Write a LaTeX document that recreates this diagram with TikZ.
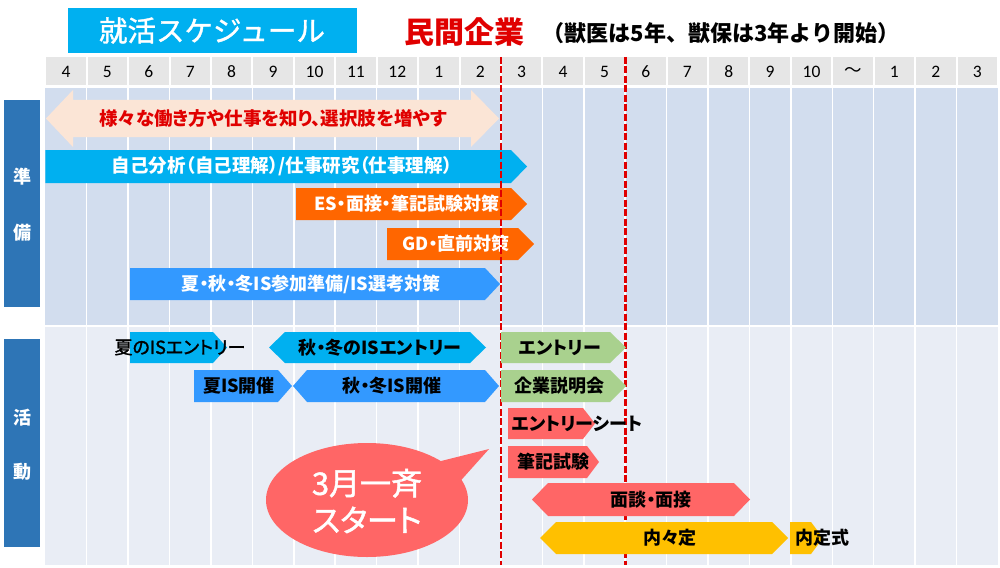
\documentclass[tikz,border=0pt]{standalone}
\usepackage{fontspec}
\setmainfont{Noto Sans CJK JP}[RawFeature=+palt]
\newfontfamily\jpfont{Noto Sans CJK JP}
\newfontfamily\medfont{Noto Sans CJK JP}[FakeBold=1.2]
\newfontfamily\medpfont{Noto Sans CJK JP}[RawFeature=+palt, FakeBold=1.5]
\newfontfamily\numfont{Carlito}
\definecolor{titlecyan}{HTML}{00B0F0}
\definecolor{sideblue}{HTML}{2E75B6}
\definecolor{headgray}{HTML}{E6E6E6}
\definecolor{upperbg}{HTML}{D2DDEE}
\definecolor{lowerbg}{HTML}{E9EDF5}
\definecolor{peach}{HTML}{FBE5D6}
\definecolor{barcyan}{HTML}{00B0F0}
\definecolor{barorange}{HTML}{FF6600}
\definecolor{barblue}{HTML}{3399FF}
\definecolor{bargreen}{HTML}{A9D18E}
\definecolor{barred}{HTML}{FF6666}
\definecolor{baryellow}{HTML}{FFC000}
\definecolor{darkred}{HTML}{E00000}
\newcommand\shpR[6]{\fill[#6] (#1,#2) -- ({#3-#5},#2) -- (#3,{(#2+#4)/2}) -- ({#3-#5},#4) -- (#1,#4) -- cycle;}
\newcommand\shpH[6]{\fill[#6] (#1,{(#2+#4)/2}) -- ({#1+#5},#2) -- ({#3-#5},#2) -- (#3,{(#2+#4)/2}) -- ({#3-#5},#4) -- ({#1+#5},#4) -- cycle;}
\begin{document}
\begin{tikzpicture}[x=1pt,y=-1pt,
  lbl/.style={inner sep=0pt, font=\fontsize{18}{18}\selectfont\bfseries},
  wlbl/.style={lbl, text=white},
  sidetxt/.style={inner sep=0pt, text=white, font=\fontsize{18}{18}\selectfont\bfseries},
  reddash/.style={darkred, line width=2.6pt, dash pattern=on 7pt off 2.5pt},
  gridline/.style={white, line width=1.5pt}]
\useasboundingbox (0,0) rectangle (1000,567);
% title
\fill[titlecyan] (68,8) rectangle (357,53);
\node[inner sep=0pt, text=white, font=\medfont\fontsize{28.5}{28.5}\selectfont] (title) at (212,30.5) {就活スケジュール};
\node[inner sep=0pt, text=darkred, font=\fontsize{30}{30}\selectfont\bfseries] (minkan) at (464,32) {民間企業};
\node[inner sep=0pt, font=\jpfont\fontsize{22}{22}\selectfont\bfseries] (sub) at (721,33) {（獣医は5年、獣保は3年より開始）};
% header
\foreach \m [count=\i from 0] in {4,5,6,7,8,9,10,11,12,1,2,3,4,5,6,7,8,9,10,{\jpfont ～},1,2,3} {
  \fill[headgray] ({45.3+41.42*\i+1},57) rectangle ({45.3+41.42*(\i+1)-1},85);
  \node[inner sep=0pt, font=\numfont\fontsize{17.5}{17.5}\selectfont] (h\i) at ({45.3+41.42*\i+20.7},71.5) {\m};
}
% body
\fill[upperbg] (45.3,88) rectangle (998,325);
\fill[lowerbg] (45.3,327) rectangle (998,565);
\foreach \i in {1,...,22} { \draw[gridline] ({45.3+41.42*\i},88) -- ({45.3+41.42*\i},565); }
% side boxes
\fill[sideblue] (4,100) rectangle (40,307);
\node[sidetxt] (jun) at (22,177) {準};
\node[sidetxt] (bi) at (22,233) {備};
\fill[sideblue] (4,339) rectangle (40,547);
\node[sidetxt] (katsu) at (22,418) {活};
\node[sidetxt] (dou) at (22,472) {動};
% preparation
\fill[peach] (46,118.5) -- (73,90) -- (73,100) -- (471,100) -- (471,90) -- (499,118.5) -- (471,147) -- (471,137) -- (73,137) -- (73,147) -- cycle;
\node[lbl, text=darkred, font=\fontsize{18.5}{18.5}\selectfont\bfseries] (p1) at (273,118.5) {様々な働き方や仕事を知り、選択肢を増やす};
\shpR{45.3}{150}{527}{183}{16}{barcyan}
\node[wlbl, font=\fontsize{18.5}{18.5}\selectfont\bfseries] (p2) at (282,166.5) {自己分析（自己理解）/仕事研究（仕事理解）};
\shpR{296}{188}{527}{220}{16}{barorange}
\node[wlbl] (p3) at (407,204) {ES・面接・筆記試験対策};
\shpR{387}{228}{534}{260}{16}{barorange}
\node[wlbl] (p4) at (456,244) {GD・直前対策};
\shpR{130}{268}{500}{300}{15}{barblue}
\node[wlbl] (p5) at (311,284) {夏・秋・冬IS参加準備/IS選考対策};
% dashed lines
\coordinate (d1t) at (500.9,57); \coordinate (d1b) at (500.9,565);
\coordinate (d2t) at (625.2,57); \coordinate (d2b) at (625.2,565);
\draw[reddash] (d1t) -- (d1b);
\draw[reddash] (d2t) -- (d2b);
% activities
\shpR{130}{332}{227}{363}{14}{barcyan}
\node[inner sep=0pt, font=\medpfont\fontsize{18}{18}\selectfont] (a1) at (180,347.5) {夏のISエントリー};
\shpH{269}{332}{486}{363}{16}{barcyan}
\node[lbl] (a2) at (380,347.5) {秋・冬のISエントリー};
\shpR{194}{370}{292}{402}{14}{barblue}
\node[lbl] (a3) at (239,386) {夏IS開催};
\shpH{293}{370}{499}{402}{14}{barblue}
\node[lbl] (a4) at (392,386) {秋・冬IS開催};
\shpR{501}{332}{626}{363}{16}{bargreen}
\node[lbl] (a5) at (560,347.5) {エントリー};
\shpR{501}{370}{626}{402}{16}{bargreen}
\node[lbl] (a6) at (559,386) {企業説明会};
\shpR{508}{408}{595}{439}{12}{barred}
\node[lbl] (a7) at (577,423.5) {エントリーシート};
\shpR{508}{446}{599}{478}{12}{barred}
\node[lbl] (a8) at (553,462) {筆記試験};
\shpH{532}{483}{750}{516}{16}{barred}
\node[lbl] (a9) at (651,499.5) {面談・面接};
\shpH{540}{522}{788}{554}{16}{baryellow}
\node[lbl] (a10) at (670,538) {内々定};
\shpR{790}{522}{823}{554}{12}{baryellow}
\node[lbl] (a11) at (822,538) {内定式};
% callout
\fill[barred] (367,500) ellipse [x radius=101, y radius=57];
\fill[barred] (425,465) -- (489,449) -- (455,487) -- cycle;
\node[inner sep=0pt, text=white, align=center, font=\medpfont\fontsize{31}{37}\selectfont] (call) at (367,501) {3月一斉\\スタート};
\end{tikzpicture}
\end{document}
